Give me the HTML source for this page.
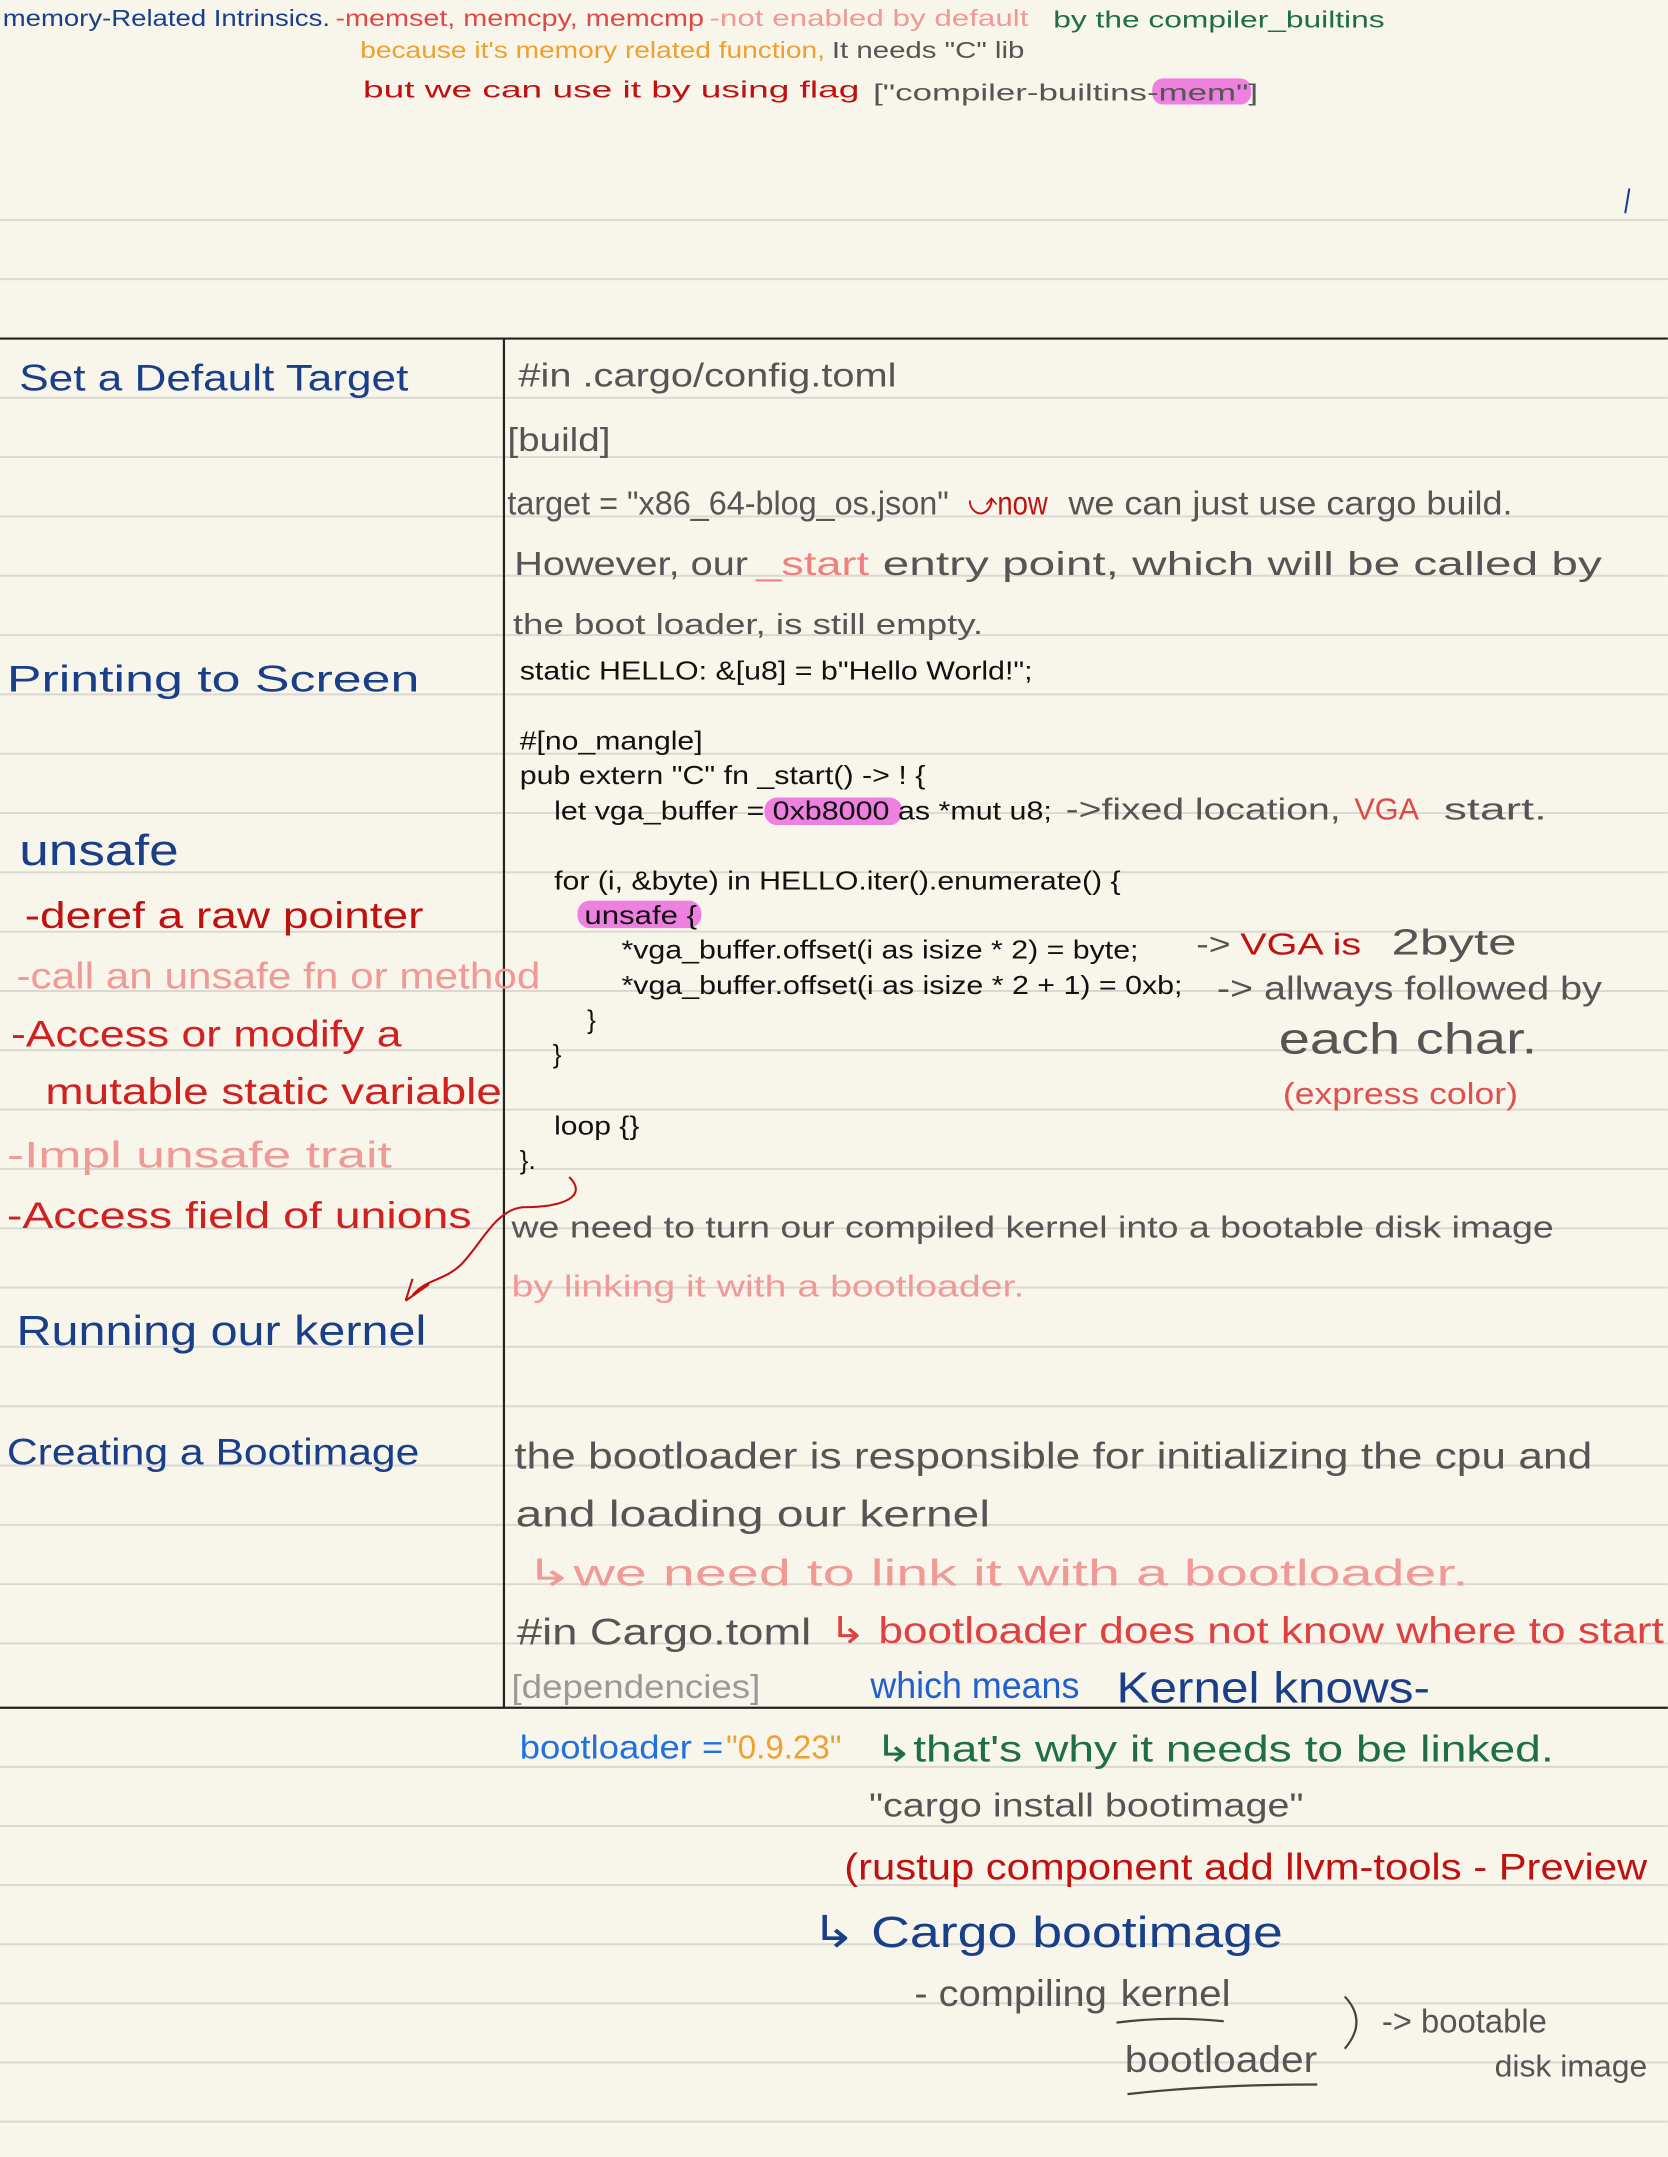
<!DOCTYPE html>
<html><head><meta charset="utf-8"><style>
html,body{margin:0;padding:0;background:#f8f5ea;}
svg{display:block}
text{font-family:"Liberation Sans",sans-serif;}
.n{font-family:"Liberation Sans Narrow","Liberation Sans",sans-serif;}
</style></head><body>
<svg width="1668" height="2157" viewBox="0 0 1213.1 1568.7" xmlns="http://www.w3.org/2000/svg">
<rect width="1213.1" height="1568.7" fill="#f8f5ea"/>
<g stroke="#d9d8d2" stroke-width="1.4">
<line x1="0" x2="1213" y1="160" y2="160"/><line x1="0" x2="1213" y1="203" y2="203"/>
<line x1="0" x2="1213" y1="289.3" y2="289.3"/><line x1="0" x2="1213" y1="332.4" y2="332.4"/><line x1="0" x2="1213" y1="375.6" y2="375.6"/><line x1="0" x2="1213" y1="418.7" y2="418.7"/><line x1="0" x2="1213" y1="461.9" y2="461.9"/><line x1="0" x2="1213" y1="505" y2="505"/><line x1="0" x2="1213" y1="548.1" y2="548.1"/><line x1="0" x2="1213" y1="591.3" y2="591.3"/><line x1="0" x2="1213" y1="634.4" y2="634.4"/><line x1="0" x2="1213" y1="677.6" y2="677.6"/><line x1="0" x2="1213" y1="720.7" y2="720.7"/><line x1="0" x2="1213" y1="763.8" y2="763.8"/><line x1="0" x2="1213" y1="807" y2="807"/><line x1="0" x2="1213" y1="850.1" y2="850.1"/><line x1="0" x2="1213" y1="893.3" y2="893.3"/><line x1="0" x2="1213" y1="936.4" y2="936.4"/><line x1="0" x2="1213" y1="979.5" y2="979.5"/><line x1="0" x2="1213" y1="1022.7" y2="1022.7"/><line x1="0" x2="1213" y1="1065.8" y2="1065.8"/><line x1="0" x2="1213" y1="1109" y2="1109"/><line x1="0" x2="1213" y1="1152.1" y2="1152.1"/><line x1="0" x2="1213" y1="1195.2" y2="1195.2"/><line x1="0" x2="1213" y1="1285" y2="1285"/><line x1="0" x2="1213" y1="1328" y2="1328"/><line x1="0" x2="1213" y1="1371" y2="1371"/><line x1="0" x2="1213" y1="1414" y2="1414"/><line x1="0" x2="1213" y1="1457" y2="1457"/><line x1="0" x2="1213" y1="1500" y2="1500"/><line x1="0" x2="1213" y1="1543" y2="1543"/>
</g>
<g stroke="#222" stroke-width="1.6">
<line x1="0" x2="1213" y1="246.2" y2="246.2"/>
<line x1="0" x2="1213" y1="1242" y2="1242"/>
<line x1="366.5" x2="366.5" y1="246.2" y2="1242"/>
</g>
<!-- highlights -->
<rect x="838" y="57" width="72" height="19" rx="8" fill="#ee80e0"/>
<rect x="556" y="580" width="100" height="20" rx="9" fill="#ee80e0"/>
<rect x="420" y="655" width="90" height="20" rx="9" fill="#ee80e0"/>
<!-- top -->
<g font-size="17">
<text x="2" y="19" textLength="238" lengthAdjust="spacingAndGlyphs" fill="#1a3f8a">memory-Related  Intrinsics.</text>
<text x="244" y="19" textLength="268" lengthAdjust="spacingAndGlyphs" fill="#e04848">-memset, memcpy, memcmp</text>
<text x="516" y="19" textLength="232" lengthAdjust="spacingAndGlyphs" fill="#f09a98">-not enabled by default</text>
<text x="766" y="20" textLength="241" lengthAdjust="spacingAndGlyphs" fill="#1f6e4a">by the compiler_builtins</text>
<text x="262" y="42" textLength="338" lengthAdjust="spacingAndGlyphs" fill="#eea030">because it's memory related function,</text>
<text x="605" y="42" textLength="140" lengthAdjust="spacingAndGlyphs" fill="#555">It needs "C" lib</text>
<text x="264" y="71" textLength="361" lengthAdjust="spacingAndGlyphs" fill="#c01010">but we can use it by using flag</text>
<text x="635" y="73" textLength="280" lengthAdjust="spacingAndGlyphs" fill="#555">["compiler-builtins-mem"]</text>
</g>
<line x1="1185" y1="137" x2="1182" y2="155" stroke="#1a3f8a" stroke-width="1.5"/>
<!-- left column -->
<g font-size="27">
<text x="14" y="284" textLength="283" lengthAdjust="spacingAndGlyphs" fill="#1a3f8a">Set a Default  Target</text>
<text x="5" y="503" textLength="300" lengthAdjust="spacingAndGlyphs" fill="#1a3f8a">Printing  to  Screen</text>
<text x="14" y="629" textLength="116" lengthAdjust="spacingAndGlyphs" font-size="32" fill="#1a3f8a">unsafe</text>
<text x="18" y="675" textLength="290" lengthAdjust="spacingAndGlyphs" fill="#c01010">-deref  a  raw  pointer</text>
<text x="12" y="719" textLength="381" lengthAdjust="spacingAndGlyphs" fill="#f09a98">-call an unsafe fn  or method</text>
<text x="8" y="761" textLength="284" lengthAdjust="spacingAndGlyphs" fill="#d02020">-Access  or  modify  a</text>
<text x="33" y="803" textLength="332" lengthAdjust="spacingAndGlyphs" fill="#d02020">mutable  static  variable</text>
<text x="5" y="849" textLength="280" lengthAdjust="spacingAndGlyphs" fill="#f09a98">-Impl  unsafe  trait</text>
<text x="5" y="893" textLength="338" lengthAdjust="spacingAndGlyphs" fill="#d02020">-Access  field  of  unions</text>
<text x="12" y="978" textLength="298" lengthAdjust="spacingAndGlyphs" font-size="30" fill="#1a3f8a">Running  our  kernel</text>
<text x="5" y="1065" textLength="300" lengthAdjust="spacingAndGlyphs" fill="#1a3f8a">Creating  a  Bootimage</text>
</g>
<path d="M414,856 C428,870 410,878 380,878 C360,880 350,905 335,920 C322,932 310,930 300,942" fill="none" stroke="#c01010" stroke-width="1.5"/>
<path d="M295,946 L300,930 M295,946 L312,934" fill="none" stroke="#c01010" stroke-width="1.5"/>
<!-- right column -->
<g font-size="24">
<text x="377" y="281" textLength="275" lengthAdjust="spacingAndGlyphs" fill="#555">#in .cargo/config.toml</text>
<text x="369" y="328" textLength="75" lengthAdjust="spacingAndGlyphs" fill="#555">[build]</text>
<text x="369" y="374" textLength="321" lengthAdjust="spacingAndGlyphs" fill="#555">target = "x86_64-blog_os.json"</text>
<text x="704" y="374" textLength="58" lengthAdjust="spacingAndGlyphs" fill="#c01010">⤻now</text>
<text x="777" y="374" textLength="323" lengthAdjust="spacingAndGlyphs" fill="#555">we can just use cargo build.</text>
<text x="374" y="418" textLength="170" lengthAdjust="spacingAndGlyphs" fill="#555">However,  our</text>
<text x="550" y="418" textLength="82" lengthAdjust="spacingAndGlyphs" fill="#f08080">_start</text>
<text x="642" y="418" textLength="523" lengthAdjust="spacingAndGlyphs" fill="#555">entry  point,  which  will  be  called  by</text>
<text x="373" y="461" textLength="342" lengthAdjust="spacingAndGlyphs" font-size="21" fill="#555">the  boot  loader,  is  still  empty.</text>
</g>
<!-- code -->
<g font-size="19" fill="#111" class="n">
<text x="378" y="494" textLength="373" lengthAdjust="spacingAndGlyphs">static HELLO: &amp;[u8] = b"Hello World!";</text>
<text x="378" y="545" textLength="133" lengthAdjust="spacingAndGlyphs">#[no_mangle]</text>
<text x="378" y="570" textLength="295" lengthAdjust="spacingAndGlyphs">pub extern "C" fn _start() -&gt; ! {</text>
<text x="403" y="596" textLength="362" lengthAdjust="spacingAndGlyphs">let vga_buffer = 0xb8000 as *mut u8;</text>
<text x="403" y="647" textLength="412" lengthAdjust="spacingAndGlyphs">for (i, &amp;byte) in HELLO.iter().enumerate() {</text>
<text x="425" y="672" textLength="82" lengthAdjust="spacingAndGlyphs">unsafe {</text>
<text x="452" y="697" textLength="376" lengthAdjust="spacingAndGlyphs">*vga_buffer.offset(i as isize * 2) = byte;</text>
<text x="452" y="723" textLength="408" lengthAdjust="spacingAndGlyphs">*vga_buffer.offset(i as isize * 2 + 1) = 0xb;</text>
<text x="427" y="748">}</text>
<text x="402" y="773">}</text>
<text x="403" y="825" textLength="62" lengthAdjust="spacingAndGlyphs">loop {}</text>
<text x="378" y="850">}.</text>
</g>
<g font-size="22">
<text x="775" y="596" textLength="200" lengthAdjust="spacingAndGlyphs" fill="#555">-&gt;fixed  location,</text>
<text x="985" y="596" textLength="47" lengthAdjust="spacingAndGlyphs" fill="#e04848">VGA</text>
<text x="1050" y="596" textLength="75" lengthAdjust="spacingAndGlyphs" fill="#555">start.</text>
<text x="870" y="694" textLength="25" lengthAdjust="spacingAndGlyphs" fill="#555">-&gt;</text>
<text x="902" y="694" textLength="88" lengthAdjust="spacingAndGlyphs" fill="#c01010">VGA  is</text>
<text x="1012" y="694" textLength="91" lengthAdjust="spacingAndGlyphs" font-size="26" fill="#555">2byte</text>
<text x="885" y="727" textLength="280" lengthAdjust="spacingAndGlyphs" font-size="24" fill="#555">-&gt; allways  followed  by</text>
<text x="930" y="766" textLength="188" lengthAdjust="spacingAndGlyphs" font-size="32" fill="#555">each  char.</text>
<text x="933" y="803" textLength="171" lengthAdjust="spacingAndGlyphs" fill="#e05050">(express  color)</text>
<text x="372" y="900" textLength="758" lengthAdjust="spacingAndGlyphs" fill="#555">we  need  to  turn  our  compiled  kernel  into  a  bootable  disk  image</text>
<text x="372" y="943" textLength="373" lengthAdjust="spacingAndGlyphs" fill="#f09a98">by  linking  it  with  a  bootloader.</text>
</g>
<g font-size="27">
<text x="374" y="1068" textLength="784" lengthAdjust="spacingAndGlyphs" fill="#555">the  bootloader  is  responsible  for  initializing  the  cpu  and</text>
<text x="375" y="1110" textLength="345" lengthAdjust="spacingAndGlyphs" fill="#555">and  loading  our  kernel</text>
<text x="382" y="1153" textLength="686" lengthAdjust="spacingAndGlyphs" fill="#f09a98">↳we  need  to  link  it  with  a  bootloader.</text>
<text x="376" y="1196" textLength="214" lengthAdjust="spacingAndGlyphs" fill="#555">#in Cargo.toml</text>
<text x="603" y="1195" textLength="607" lengthAdjust="spacingAndGlyphs" fill="#e04040">↳ bootloader  does  not  know  where  to  start</text>
<text x="372" y="1235" textLength="181" lengthAdjust="spacingAndGlyphs" font-size="24" fill="#999">[dependencies]</text>
<text x="633" y="1235" textLength="152" lengthAdjust="spacingAndGlyphs" fill="#2060d0">which  means</text>
<text x="812" y="1238" textLength="228" lengthAdjust="spacingAndGlyphs" font-size="32" fill="#1a3f8a">Kernel  knows-</text>
<text x="378" y="1279" textLength="148" lengthAdjust="spacingAndGlyphs" font-size="24" fill="#2070e0">bootloader =</text>
<text x="528" y="1279" textLength="84" lengthAdjust="spacingAndGlyphs" font-size="24" fill="#f0a030">"0.9.23"</text>
<text x="636" y="1281" textLength="494" lengthAdjust="spacingAndGlyphs" fill="#1f6e4a">↳that's  why  it  needs  to  be  linked.</text>
<text x="632" y="1321" textLength="316" lengthAdjust="spacingAndGlyphs" font-size="24" fill="#555">"cargo  install  bootimage"</text>
<text x="614" y="1367" textLength="584" lengthAdjust="spacingAndGlyphs" fill="#c01010">(rustup  component  add  llvm-tools - Preview</text>
<text x="590" y="1416" textLength="343" lengthAdjust="spacingAndGlyphs" font-size="32" fill="#1a3f8a">↳ Cargo  bootimage</text>
<text x="665" y="1459" textLength="140" lengthAdjust="spacingAndGlyphs" fill="#555">- compiling</text>
<text x="815" y="1459" textLength="80" lengthAdjust="spacingAndGlyphs" fill="#555">kernel</text>
<text x="818" y="1507" textLength="140" lengthAdjust="spacingAndGlyphs" fill="#555">bootloader</text>
<text x="1005" y="1478" textLength="120" lengthAdjust="spacingAndGlyphs" font-size="24" fill="#555">-&gt; bootable</text>
<text x="1087" y="1510" textLength="111" lengthAdjust="spacingAndGlyphs" font-size="22" fill="#555">disk  image</text>
</g>
<path d="M812,1471 Q850,1466 890,1470 M820,1523 Q880,1516 958,1516 M978,1452 Q995,1470 978,1490" fill="none" stroke="#444" stroke-width="1.6"/>
</svg>
</body></html>
